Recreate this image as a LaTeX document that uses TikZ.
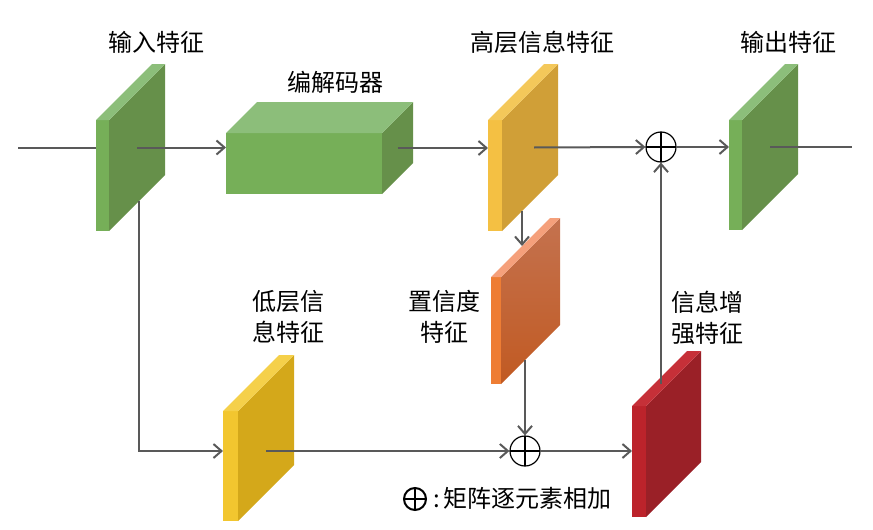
\documentclass[tikz,border=0pt]{standalone}
\usepackage{fontspec}
\newfontfamily\cjk{Noto Sans CJK SC}
\usetikzlibrary{arrows.meta,calc}

\definecolor{gFront}{HTML}{76AF58}
\definecolor{gSide}{HTML}{66904A}
\definecolor{gTop}{HTML}{8CBE7A}
\definecolor{hFront}{HTML}{F4C043}
\definecolor{hSide}{HTML}{D09F37}
\definecolor{hTop}{HTML}{F4C85A}
\definecolor{lFront}{HTML}{F2C62F}
\definecolor{lSide}{HTML}{D4A81A}
\definecolor{lTop}{HTML}{F5D04A}
\definecolor{rFront}{HTML}{BC232B}
\definecolor{rSide}{HTML}{9A2027}
\definecolor{rTop}{HTML}{C63038}
\definecolor{oFront}{HTML}{EE7D34}
\definecolor{oSideT}{HTML}{C4724F}
\definecolor{oSideB}{HTML}{C15A22}
\definecolor{oTop}{HTML}{F5A07B}
\definecolor{lineC}{HTML}{595959}

% name, x, y, width, height, depth, front, side, top
\newcommand{\featslab}[9]{%
  \node[face,#7,minimum width=#4*0.5pt,minimum height=#5*0.5pt] (#1) at (#2,#3) {};
  \path[#8] (#1.north east) -- ++(#6,-#6) -- ++(0,#5) -- (#1.south east) -- cycle;
  \path[#9] (#1.north west) -- ++(#6,-#6) -- ++(#4,0) -- (#1.north east) -- cycle;
  \coordinate (#1-s) at ($(#1.east)+(#6/2,-#6/2)$);
}

\begin{document}
\begin{tikzpicture}[x=0.5pt,y=-0.5pt,
    face/.style={anchor=north west,inner sep=0pt,outer sep=0pt},
    conn/.style={lineC,line width=1pt,-{Straight Barb[length=4pt,width=7pt]}},
    plain/.style={lineC,line width=1pt},
    sum/.style={circle,draw,line width=0.6pt,minimum size=15pt,inner sep=0pt,
      path picture={\draw[line width=0.6pt] (path picture bounding box.north) -- (path picture bounding box.south)
        (path picture bounding box.west) -- (path picture bounding box.east);}},
    lab/.style={font=\cjk\fontsize{12}{15.5}\selectfont,align=center}]
  \useasboundingbox (0,0) rectangle (873,530);

  % feature slabs
  \featslab{in}{96}{120}{13}{111}{56}{fill=gFront}{fill=gSide}{fill=gTop}
  \featslab{enc}{226}{133}{156}{61}{31}{fill=gFront}{fill=gSide}{fill=gTop}
  \featslab{hi}{488}{120}{14}{111}{56}{fill=hFront}{fill=hSide}{fill=hTop}
  \featslab{out}{729}{120}{13}{110}{56}{fill=gFront}{fill=gSide}{fill=gTop}
  \featslab{conf}{491}{277}{10}{107}{59}{fill=oFront}{top color=oSideT,bottom color=oSideB}{fill=oTop}
  \featslab{lo}{223}{411}{15}{110}{56}{fill=lFront}{fill=lSide}{fill=lTop}
  \featslab{enh}{632}{406}{14}{111}{55}{fill=rFront}{fill=rSide}{fill=rTop}

  % element-wise sums
  \node[sum] (sum1) at (661,147) {};
  \node[sum] (sum2) at (525,451) {};

  \coordinate (start) at (18,148);
  \coordinate (end) at ($(out-s)+(82,0)$);

  % connectors
  \draw[plain] (start) -- (start -| in.west);
  \draw[conn] (in-s) -- (in-s -| enc.west);
  \draw[conn] (enc-s) -- (enc-s -| hi.west);
  \draw[conn] ($(hi-s)+(4,0)$) -- (sum1.west);
  \draw[conn] (sum1.east) -- (sum1 -| out.west);
  \draw[plain] (out-s) -- (end);
  \draw[conn] ($(hi.south east)+(20,-20)$) -- ($(conf.north west)+(31,-31)$);
  \draw[conn] ($(conf.south east)+(24,-24)$) -- (sum2.north);
  \draw[conn] ($(in.south east)+(30,-30)$) |- (sum2 -| lo.west);
  \draw[conn] (lo-s |- sum2) -- (sum2.west);
  \draw[conn] (sum2.east) -- (sum2 -| enh.west);
  \draw[conn] ($(enh.north east)+(15,-22)$) -- (sum1.south);

  % labels
  \node[lab] (inL) at (156,42) {输入特征};
  \node[lab] (encL) at (335,82) {编解码器};
  \node[lab] (hiL) at (542,42) {高层信息特征};
  \node[lab] (outL) at (788,42) {输出特征};
  \node[lab] (loL) at (288,317) {低层信\\息特征};
  \node[lab] (confL) at (444,317) {置信度\\特征};
  \node[lab] (enhL) at (707,318) {信息增\\强特征};

  % legend
  \node[sum,line width=1pt,minimum size=11pt] (key) at (415,499) {};
  \node[lab,anchor=west] (keyL) at (426,498) {:\,矩阵逐元素相加};
\end{tikzpicture}
\end{document}
